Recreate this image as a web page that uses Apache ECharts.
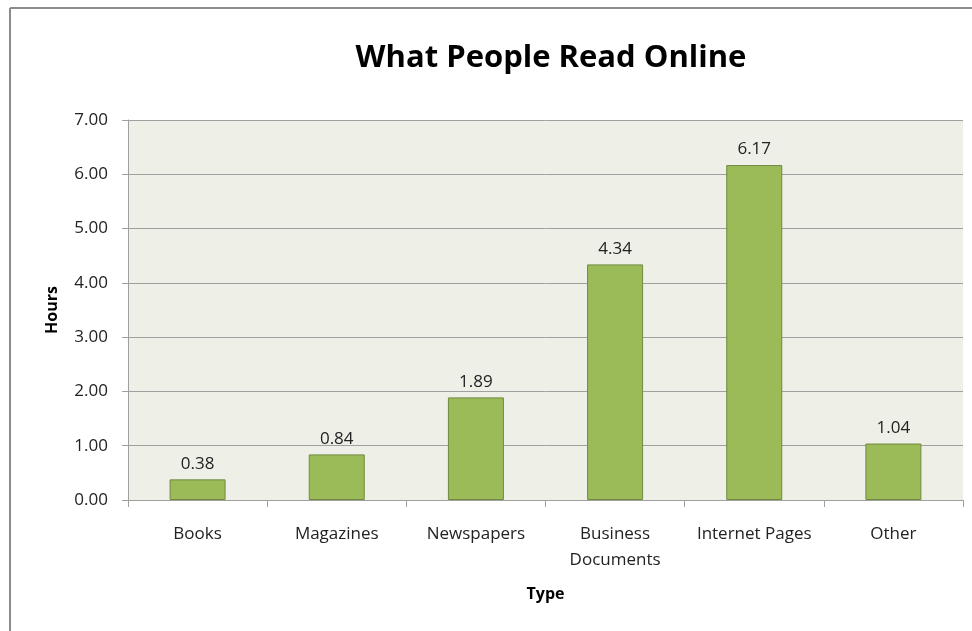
<!DOCTYPE html>
<html>
<head>
<meta charset="utf-8">
<script src="https://cdn.jsdelivr.net/npm/echarts@6/dist/echarts.min.js"></script>
<style>
  html, body { margin: 0; padding: 0; background: #ffffff; }
  #chart { width: 972px; height: 631px; }
</style>
</head>
<body>
<div id="chart"></div>
<script>
// Reading time per content type
const categories = ['Books', 'Magazines', 'Newspapers', 'Business\nDocuments', 'Internet Pages', 'Other'];
const hours = [0.38, 0.84, 1.89, 4.34, 6.17, 1.04];
const yTicks = [0, 1, 2, 3, 4, 5, 6, 7];

const FONT = '"Open Sans", Lato, sans-serif';
const chart = echarts.init(document.getElementById('chart'), null, { renderer: 'canvas' });

chart.setOption({
  backgroundColor: '#ffffff',
  animation: false,
  title: {
    text: 'What People Read Online',
    left: 546,
    textAlign: 'center',
    top: 38,
    textStyle: { fontFamily: FONT, fontSize: 31, fontWeight: 'bold', color: '#000000' }
  },
  graphic: [
    { type: 'line', shape: { x1: 10, y1: 8, x2: 972, y2: 8 }, style: { stroke: '#8c8c8c', lineWidth: 2 } },
    { type: 'line', shape: { x1: 10, y1: 8, x2: 10, y2: 631 }, style: { stroke: '#8c8c8c', lineWidth: 2 } }
  ],
  grid: {
    left: 128, right: 9, top: 120, bottom: 131,
    show: true, backgroundColor: '#eef0e7', borderWidth: 0
  },
  xAxis: {
    type: 'category',
    data: categories,
    name: 'Type',
    nameLocation: 'middle',
    nameGap: 86,
    nameTextStyle: { fontFamily: FONT, fontSize: 16, fontWeight: 'bold', color: '#000000' },
    axisLine: { lineStyle: { color: '#a0a0a0', width: 1 } },
    axisTick: { show: true, length: 7, alignWithLabel: false, lineStyle: { color: '#a0a0a0' } },
    axisLabel: { fontFamily: FONT, fontSize: 17, color: '#222222', margin: 21, lineHeight: 26, interval: 0 }
  },
  yAxis: {
    type: 'value',
    min: yTicks[0],
    max: yTicks[yTicks.length - 1],
    interval: 1,
    name: 'Hours',
    nameLocation: 'middle',
    nameRotate: 90,
    nameGap: 68,
    nameTextStyle: { fontFamily: FONT, fontSize: 16, fontWeight: 'bold', color: '#000000' },
    axisLine: { show: true, lineStyle: { color: '#a0a0a0', width: 1 } },
    axisTick: { show: true, length: 6, lineStyle: { color: '#a0a0a0' } },
    axisLabel: {
      fontFamily: FONT, fontSize: 17, color: '#222222', margin: 20,
      formatter: v => v.toFixed(2)
    },
    splitLine: { show: true, lineStyle: { color: '#a0a0a0', width: 1 } }
  },
  series: [{
    type: 'bar',
    data: hours,
    barWidth: 56,
    itemStyle: { color: '#9bbb59', borderColor: '#71893f', borderWidth: 1 },
    label: {
      show: true,
      position: 'top',
      distance: 7,
      fontFamily: FONT, fontSize: 17, color: '#222222',
      formatter: p => p.value.toFixed(2)
    }
  }]
});
</script>
</body>
</html>
